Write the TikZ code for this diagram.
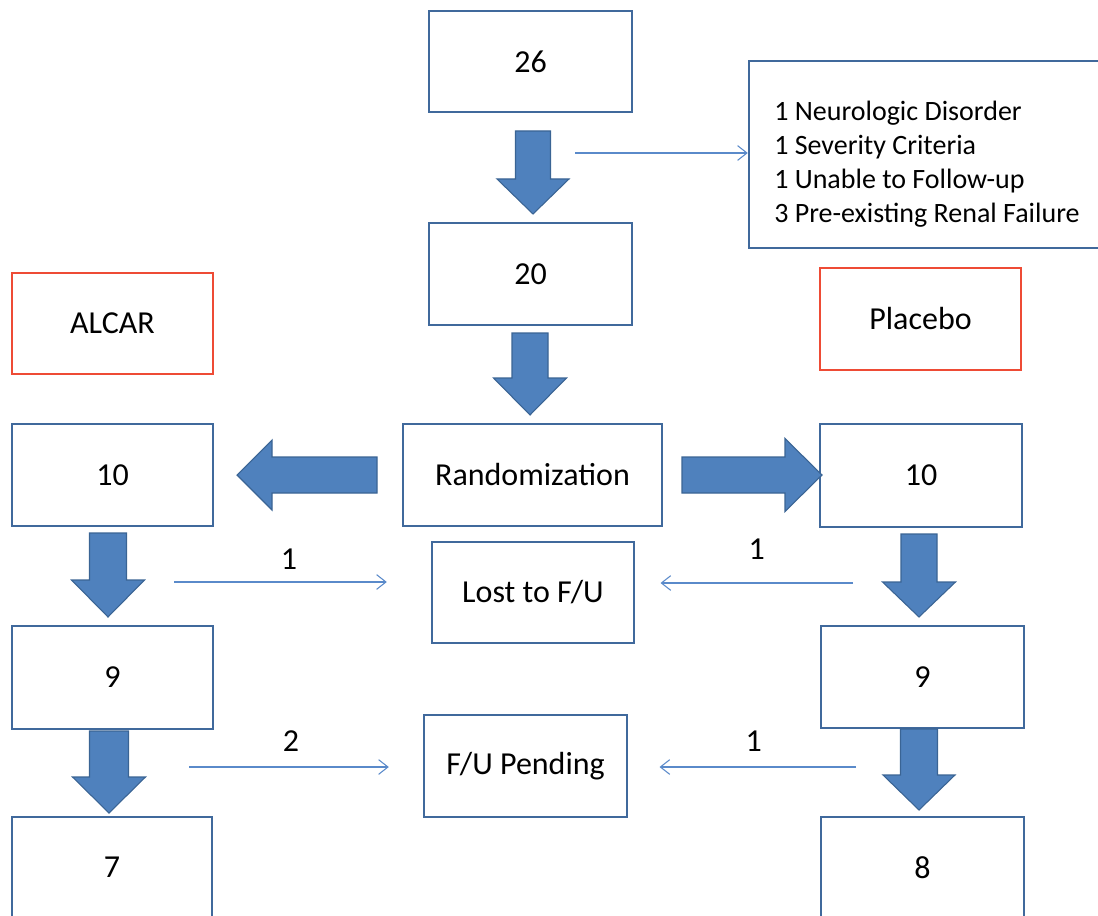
\documentclass[tikz,border=0pt]{standalone}
\usepackage{fontspec}
\setmainfont{Carlito}
\usetikzlibrary{arrows.meta}
\definecolor{boxblue}{HTML}{40699C}
\definecolor{boxred}{HTML}{EE4B35}
\definecolor{fatfill}{HTML}{4F81BD}
\definecolor{fatline}{HTML}{3A6494}
\definecolor{thinblue}{HTML}{5A8ACA}
\newcommand{\FatDown}[6]{% cx, top, headstart, tip, shaft half, head half
  \draw[fatarrow] ({#1-#5},#2) -- ({#1+#5},#2) -- ({#1+#5},#3) -- ({#1+#6},#3)
    -- (#1,#4) -- ({#1-#6},#3) -- ({#1-#5},#3) -- cycle;}
\newcommand{\FatSide}[6]{% cy, start, headstart, tip, shaft half, head half
  \draw[fatarrow] (#2,{#1-#5}) -- (#2,{#1+#5}) -- (#3,{#1+#5}) -- (#3,{#1+#6})
    -- (#4,#1) -- (#3,{#1-#6}) -- (#3,{#1-#5}) -- cycle;}
\begin{document}
\begin{tikzpicture}[x=0.75pt,y=-0.75pt,
  bx/.style={draw=boxblue, line width=1.8pt, fill=white, inner sep=0pt,
    font=\fontsize{24}{28}\selectfont},
  redbx/.style={bx, draw=boxred},
  wh/.style 2 args={minimum width=#1*0.75pt, minimum height=#2*0.75pt},
  fatarrow/.style={fill=fatfill, draw=fatline, line width=0.8pt, line join=miter},
  thin/.style={draw=thinblue, line width=0.8pt,
    -{Straight Barb[length=7pt,width=11pt,line width=0.8pt]}},
  lbl/.style={font=\fontsize{24}{28}\selectfont, inner sep=0pt}]
\useasboundingbox (0,0) rectangle (1098,916);
\clip (0,0) rectangle (1098,916);
% boxes
\node[bx, wh={203}{101}] (n26) at (530.5,61.5) {26};
\node[bx, wh={361}{187}] (excl) at (929.5,154.5) {};
\node[anchor=west, align=left, inner sep=0pt, font=\fontsize{21}{25.5}\selectfont] (excltxt) at (774,164.5)
  {1 Neurologic Disorder\\1 Severity Criteria\\1 Unable to Follow-up\\3 Pre-existing Renal Failure};
\node[bx, wh={203}{102}] (n20) at (530.5,274) {20};
\node[redbx, wh={201}{101}] (alcar) at (112.5,323.5) {ALCAR};
\node[redbx, wh={201}{102}] (placebo) at (920.5,319) {Placebo};
\node[bx, wh={201}{102}] (l10) at (112.5,475) {10};
\node[bx, wh={259}{102}] (rand) at (532.5,475) {Randomization};
\node[bx, wh={202}{103}] (r10) at (921,475.5) {10};
\node[bx, wh={202}{101}] (lost) at (533,592.5) {Lost to F/U};
\node[bx, wh={201}{103}] (l9) at (112.5,677.5) {9};
\node[bx, wh={203}{102}] (r9) at (922.5,677) {9};
\node[bx, wh={203}{102}] (pend) at (525.5,766) {F/U Pending};
\node[bx, wh={200}{101}] (l7) at (112,867.5) {7};
\node[bx, wh={203}{101}] (r8) at (922.5,867.5) {8};
% fat arrows
\FatDown{533}{131}{179}{214}{17.5}{36}
\FatDown{530}{333}{378}{415}{18}{36.5}
\FatSide{475}{377}{272}{237}{18}{35}
\FatSide{475}{682}{785}{822}{18}{36.5}
\FatDown{108}{533}{580}{617}{18.5}{36.5}
\FatDown{919}{534}{582}{617}{18}{36.5}
\FatDown{109}{731}{777}{813}{19.5}{36.5}
\FatDown{919}{729}{775}{810}{18.5}{36}
% thin arrows
\coordinate (e0) at (575,153);
\draw[thin] (e0) -- (e0 -| excl.west);
\coordinate (la) at (174,582);
\draw[thin] (la) -- ([xshift=-33pt]lost.west |- la) node[lbl, pos=0.54, above=9pt] (t1) {1};
\coordinate (ra) at (853,583);
\draw[thin] (ra) -- ([xshift=19pt]lost.east |- ra) node[lbl, pos=0.5, above=17pt] (t2) {1};
\coordinate (lb) at (189,767);
\draw[thin] (lb) -- ([xshift=-25.5pt]pend.west |- lb) node[lbl, pos=0.51, above=11pt] (t3) {2};
\coordinate (rb) at (856,767);
\draw[thin] (rb) -- ([xshift=23.5pt]pend.east |- rb) node[lbl, pos=0.52, above=11pt] (t4) {1};
\end{tikzpicture}
\end{document}
